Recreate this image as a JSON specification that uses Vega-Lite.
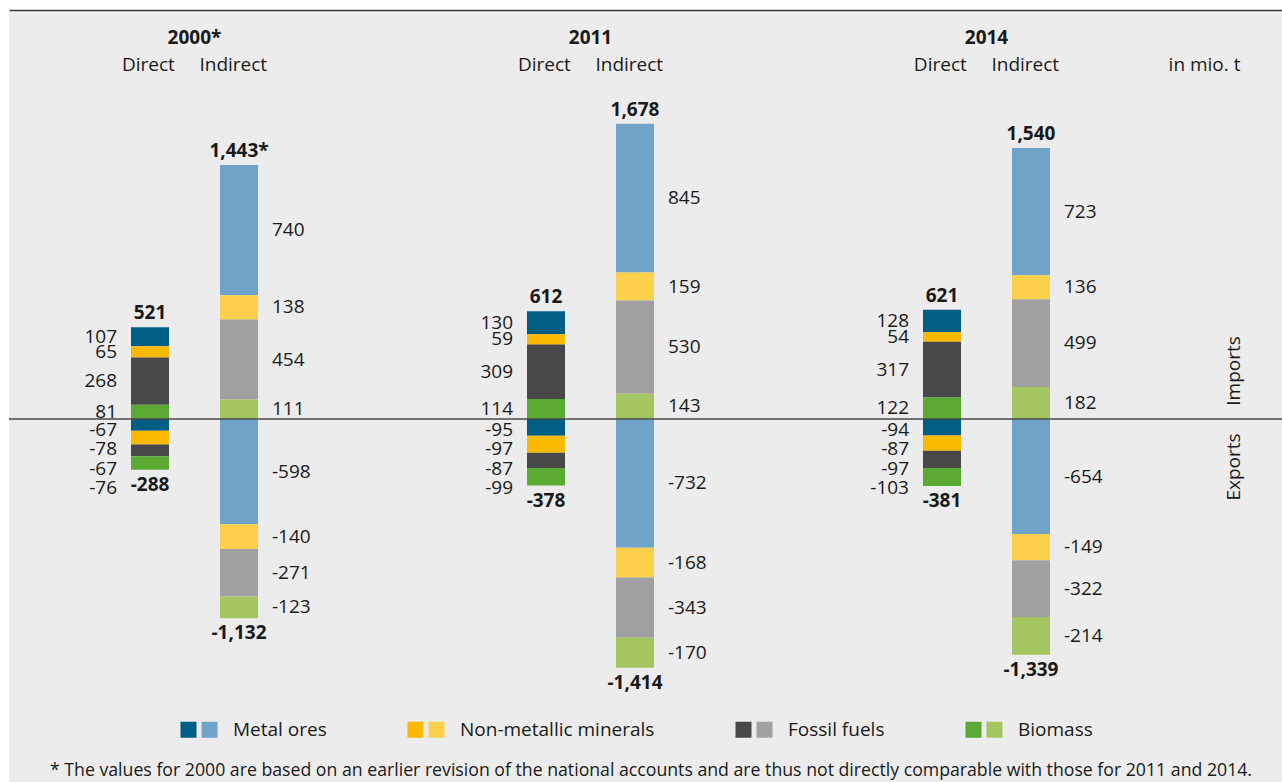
{
  "$schema": "https://vega.github.io/schema/vega-lite/v6.json",
  "autosize": "none",
  "width": 1273,
  "height": 772,
  "padding": {"left": 9, "top": 10, "right": 0, "bottom": 0},
  "background": "#ffffff",
  "config": {
    "view": {"fill": "#ebeceb", "stroke": null},
    "font": "Open Sans",
    "text": {"font": "Open Sans", "fontSize": 19, "color": "#1a1a1a"},
    "axis": {"labelFont": "Open Sans", "titleFont": "Open Sans", "labelColor": "#1a1a1a", "titleColor": "#1a1a1a"},
    "legend": {"labelFont": "Open Sans", "labelColor": "#1a1a1a"},
    "title": {"font": "Open Sans", "color": "#1a1a1a"}
  },
  "title": {
    "text": "* The values for 2000 are based on an earlier revision of the national accounts and are thus not directly comparable with those for 2011 and 2014.",
    "orient": "bottom",
    "anchor": "start",
    "frame": "group",
    "offset": -6,
    "dx": 41,
    "baseline": "alphabetic",
    "fontSize": 17.7,
    "fontWeight": "normal"
  },
  "datasets": {
    "flows": [
      {"year": "2000", "type": "Direct", "flow": "Imports", "category": "Metal ores", "value": 107},
      {"year": "2000", "type": "Direct", "flow": "Imports", "category": "Non-metallic minerals", "value": 65},
      {"year": "2000", "type": "Direct", "flow": "Imports", "category": "Fossil fuels", "value": 268},
      {"year": "2000", "type": "Direct", "flow": "Imports", "category": "Biomass", "value": 81},
      {"year": "2000", "type": "Direct", "flow": "Exports", "category": "Metal ores", "value": -67},
      {"year": "2000", "type": "Direct", "flow": "Exports", "category": "Non-metallic minerals", "value": -78},
      {"year": "2000", "type": "Direct", "flow": "Exports", "category": "Fossil fuels", "value": -67},
      {"year": "2000", "type": "Direct", "flow": "Exports", "category": "Biomass", "value": -76},
      {"year": "2000", "type": "Indirect", "flow": "Imports", "category": "Metal ores", "value": 740},
      {"year": "2000", "type": "Indirect", "flow": "Imports", "category": "Non-metallic minerals", "value": 138},
      {"year": "2000", "type": "Indirect", "flow": "Imports", "category": "Fossil fuels", "value": 454},
      {"year": "2000", "type": "Indirect", "flow": "Imports", "category": "Biomass", "value": 111},
      {"year": "2000", "type": "Indirect", "flow": "Exports", "category": "Metal ores", "value": -598},
      {"year": "2000", "type": "Indirect", "flow": "Exports", "category": "Non-metallic minerals", "value": -140},
      {"year": "2000", "type": "Indirect", "flow": "Exports", "category": "Fossil fuels", "value": -271},
      {"year": "2000", "type": "Indirect", "flow": "Exports", "category": "Biomass", "value": -123},
      {"year": "2011", "type": "Direct", "flow": "Imports", "category": "Metal ores", "value": 130},
      {"year": "2011", "type": "Direct", "flow": "Imports", "category": "Non-metallic minerals", "value": 59},
      {"year": "2011", "type": "Direct", "flow": "Imports", "category": "Fossil fuels", "value": 309},
      {"year": "2011", "type": "Direct", "flow": "Imports", "category": "Biomass", "value": 114},
      {"year": "2011", "type": "Direct", "flow": "Exports", "category": "Metal ores", "value": -95},
      {"year": "2011", "type": "Direct", "flow": "Exports", "category": "Non-metallic minerals", "value": -97},
      {"year": "2011", "type": "Direct", "flow": "Exports", "category": "Fossil fuels", "value": -87},
      {"year": "2011", "type": "Direct", "flow": "Exports", "category": "Biomass", "value": -99},
      {"year": "2011", "type": "Indirect", "flow": "Imports", "category": "Metal ores", "value": 845},
      {"year": "2011", "type": "Indirect", "flow": "Imports", "category": "Non-metallic minerals", "value": 159},
      {"year": "2011", "type": "Indirect", "flow": "Imports", "category": "Fossil fuels", "value": 530},
      {"year": "2011", "type": "Indirect", "flow": "Imports", "category": "Biomass", "value": 143},
      {"year": "2011", "type": "Indirect", "flow": "Exports", "category": "Metal ores", "value": -732},
      {"year": "2011", "type": "Indirect", "flow": "Exports", "category": "Non-metallic minerals", "value": -168},
      {"year": "2011", "type": "Indirect", "flow": "Exports", "category": "Fossil fuels", "value": -343},
      {"year": "2011", "type": "Indirect", "flow": "Exports", "category": "Biomass", "value": -170},
      {"year": "2014", "type": "Direct", "flow": "Imports", "category": "Metal ores", "value": 128},
      {"year": "2014", "type": "Direct", "flow": "Imports", "category": "Non-metallic minerals", "value": 54},
      {"year": "2014", "type": "Direct", "flow": "Imports", "category": "Fossil fuels", "value": 317},
      {"year": "2014", "type": "Direct", "flow": "Imports", "category": "Biomass", "value": 122},
      {"year": "2014", "type": "Direct", "flow": "Exports", "category": "Metal ores", "value": -94},
      {"year": "2014", "type": "Direct", "flow": "Exports", "category": "Non-metallic minerals", "value": -87},
      {"year": "2014", "type": "Direct", "flow": "Exports", "category": "Fossil fuels", "value": -97},
      {"year": "2014", "type": "Direct", "flow": "Exports", "category": "Biomass", "value": -103},
      {"year": "2014", "type": "Indirect", "flow": "Imports", "category": "Metal ores", "value": 723},
      {"year": "2014", "type": "Indirect", "flow": "Imports", "category": "Non-metallic minerals", "value": 136},
      {"year": "2014", "type": "Indirect", "flow": "Imports", "category": "Fossil fuels", "value": 499},
      {"year": "2014", "type": "Indirect", "flow": "Imports", "category": "Biomass", "value": 182},
      {"year": "2014", "type": "Indirect", "flow": "Exports", "category": "Metal ores", "value": -654},
      {"year": "2014", "type": "Indirect", "flow": "Exports", "category": "Non-metallic minerals", "value": -149},
      {"year": "2014", "type": "Indirect", "flow": "Exports", "category": "Fossil fuels", "value": -322},
      {"year": "2014", "type": "Indirect", "flow": "Exports", "category": "Biomass", "value": -214}
    ],
    "totals": [
      {"year": "2000", "type": "Direct", "flow": "Imports", "total": 521, "note": ""},
      {"year": "2000", "type": "Direct", "flow": "Exports", "total": -288, "note": ""},
      {"year": "2000", "type": "Indirect", "flow": "Imports", "total": 1443, "note": "*"},
      {"year": "2000", "type": "Indirect", "flow": "Exports", "total": -1132, "note": ""},
      {"year": "2011", "type": "Direct", "flow": "Imports", "total": 612, "note": ""},
      {"year": "2011", "type": "Direct", "flow": "Exports", "total": -378, "note": ""},
      {"year": "2011", "type": "Indirect", "flow": "Imports", "total": 1678, "note": ""},
      {"year": "2011", "type": "Indirect", "flow": "Exports", "total": -1414, "note": ""},
      {"year": "2014", "type": "Direct", "flow": "Imports", "total": 621, "note": ""},
      {"year": "2014", "type": "Direct", "flow": "Exports", "total": -381, "note": ""},
      {"year": "2014", "type": "Indirect", "flow": "Imports", "total": 1540, "note": ""},
      {"year": "2014", "type": "Indirect", "flow": "Exports", "total": -1339, "note": ""}
    ]
  },
  "layer": [
    {
      "data": {"name": "flows"},
      "transform": [
        {"calculate": "datum.flow === 'Imports' ? indexof(['Biomass','Fossil fuels','Non-metallic minerals','Metal ores'], datum.category) : indexof(['Metal ores','Non-metallic minerals','Fossil fuels','Biomass'], datum.category)", "as": "ord"},
        {"stack": "value", "groupby": ["year", "type"], "sort": [{"field": "ord", "order": "ascending"}], "as": ["v0", "v1"]},
        {"filter": "datum.type === 'Direct'"}
      ],
      "mark": {"type": "bar"},
      "encoding": {
        "x": {
          "field": "year", "type": "nominal",
          "scale": {"paddingInner": 0.5505, "paddingOuter": 0.3826, "align": 0.3185},
          "axis": {
            "orient": "top", "title": null,
            "domain": true, "domainColor": "#3a3a3a", "domainWidth": 1.5,
            "ticks": false, "tickSize": 0, "grid": false,
            "labelPadding": -33, "labelBaseline": "alphabetic", "labelAngle": 0,
            "labelFontSize": 19, "labelFontWeight": "bold", "labelOverlap": false,
            "labelExpr": "datum.value === '2000' ? '2000*' : datum.value"
          }
        },
        "xOffset": {"field": "type", "type": "nominal", "scale": {"domain": ["Direct", "Indirect"], "paddingInner": 0.573, "paddingOuter": 0.2865}},
        "y": {"field": "v0", "type": "quantitative", "scale": {"domain": [-2062.5, 2323.9], "nice": false, "zero": false}, "axis": null},
        "y2": {"field": "v1"},
        "color": {
          "field": "category", "type": "nominal",
          "scale": {"domain": ["Metal ores", "Non-metallic minerals", "Fossil fuels", "Biomass"], "range": ["#005e84", "#fbb900", "#48474a", "#5aaa34"]},
          "legend": {
            "orient": "none", "legendX": 170, "legendY": 710, "direction": "horizontal", "title": null, "padding": 0,
            "symbolType": "square", "symbolSize": 256, "symbolStrokeWidth": 0, "symbolOpacity": 1,
            "labelOffset": 14, "columnPadding": 100, "labelFontSize": 19, "labelOpacity": 0, "labelLimit": 400
          }
        }
      }
    },
    {
      "data": {"name": "flows"},
      "transform": [
        {"calculate": "datum.flow === 'Imports' ? indexof(['Biomass','Fossil fuels','Non-metallic minerals','Metal ores'], datum.category) : indexof(['Metal ores','Non-metallic minerals','Fossil fuels','Biomass'], datum.category)", "as": "ord"},
        {"stack": "value", "groupby": ["year", "type"], "sort": [{"field": "ord", "order": "ascending"}], "as": ["v0", "v1"]},
        {"filter": "datum.type === 'Indirect'"}
      ],
      "mark": {"type": "bar"},
      "encoding": {
        "x": {
          "field": "year", "type": "nominal",
          "scale": {"paddingInner": 0.5505, "paddingOuter": 0.3826, "align": 0.3185},
          "axis": {
            "orient": "top",
            "domain": false, "ticks": false, "tickSize": 0, "grid": false,
            "labelPadding": -60, "labelBaseline": "alphabetic", "labelAngle": 0,
            "labelFontSize": 19, "labelFontWeight": "normal", "labelOverlap": false,
            "labelExpr": "'Direct\u00a0\u00a0\u00a0\u00a0\u00a0Indirect'",
            "title": "in mio. t", "titleX": 1231, "titleY": 60, "titleAlign": "right", "titleAnchor": "end",
            "titleBaseline": "alphabetic", "titleFontSize": 19, "titleFontWeight": "normal", "titlePadding": 0
          }
        },
        "xOffset": {"field": "type", "type": "nominal", "scale": {"domain": ["Direct", "Indirect"], "paddingInner": 0.573, "paddingOuter": 0.2865}},
        "y": {"field": "v0", "type": "quantitative", "scale": {"domain": [-2062.5, 2323.9], "nice": false, "zero": false}, "axis": null},
        "y2": {"field": "v1"},
        "color": {
          "field": "category", "type": "nominal",
          "scale": {"domain": ["Metal ores", "Non-metallic minerals", "Fossil fuels", "Biomass"], "range": ["#6fa4c8", "#fdd04b", "#a0a0a2", "#a4c660"]},
          "legend": {
            "orient": "none", "legendX": 191, "legendY": 710, "direction": "horizontal", "title": null, "padding": 0,
            "symbolType": "square", "symbolSize": 256, "symbolStrokeWidth": 0, "symbolOpacity": 1,
            "labelOffset": 14, "columnPadding": 100, "labelFontSize": 19, "labelLimit": 400
          }
        }
      }
    },
    {
      "data": {"values": [{}]},
      "mark": {"type": "rule", "color": "#4a4a4a", "strokeWidth": 1.3},
      "encoding": {
        "y": {"datum": 0, "type": "quantitative", "scale": {"domain": [-2062.5, 2323.9], "nice": false, "zero": false}, "axis": null}
      }
    },
    {
      "data": {"values": [{}]},
      "mark": {"type": "text", "text": "Imports", "angle": 270, "align": "center", "baseline": "bottom", "dx": 48, "dy": 258},
      "encoding": {
        "x": {"datum": "2014", "type": "nominal", "scale": {"paddingInner": 0.5505, "paddingOuter": 0.3826, "align": 0.3185}, "axis": null},
        "y": {"datum": 0, "type": "quantitative", "scale": {"domain": [-2062.5, 2323.9], "nice": false, "zero": false}, "axis": null}
      }
    },
    {
      "data": {"values": [{}]},
      "mark": {"type": "text", "text": "Exports", "angle": 270, "align": "center", "baseline": "bottom", "dx": -48, "dy": 258},
      "encoding": {
        "x": {"datum": "2014", "type": "nominal", "scale": {"paddingInner": 0.5505, "paddingOuter": 0.3826, "align": 0.3185}, "axis": null},
        "y": {"datum": 0, "type": "quantitative", "scale": {"domain": [-2062.5, 2323.9], "nice": false, "zero": false}, "axis": null}
      }
    },
    {
      "data": {"name": "flows"},
      "transform": [
        {"calculate": "datum.flow === 'Imports' ? indexof(['Biomass','Fossil fuels','Non-metallic minerals','Metal ores'], datum.category) : indexof(['Metal ores','Non-metallic minerals','Fossil fuels','Biomass'], datum.category)", "as": "ord"},
        {"stack": "value", "groupby": ["year", "type"], "sort": [{"field": "ord", "order": "ascending"}], "as": ["v0", "v1"]},
        {"calculate": "(datum.v0 + datum.v1) / 2", "as": "mid"},
        {"filter": "datum.type === 'Direct' && datum.flow === 'Imports'"}
      ],
      "mark": {"type": "text", "align": "right", "baseline": "middle", "dx": -33},
      "encoding": {
        "x": {"field": "year", "type": "nominal", "scale": {"paddingInner": 0.5505, "paddingOuter": 0.3826, "align": 0.3185}, "axis": null},
        "xOffset": {"field": "type", "type": "nominal", "scale": {"domain": ["Direct", "Indirect"], "paddingInner": 0.573, "paddingOuter": 0.2865}},
        "y": {"field": "mid", "type": "quantitative", "scale": {"domain": [-2062.5, 2323.9], "nice": false, "zero": false}, "axis": null},
        "text": {"field": "value", "type": "nominal"}
      }
    },
    {
      "data": {"name": "flows"},
      "transform": [
        {"calculate": "indexof(['Metal ores','Non-metallic minerals','Fossil fuels','Biomass'], datum.category)", "as": "ord"},
        {"filter": "datum.type === 'Direct' && datum.flow === 'Exports'"}
      ],
      "mark": {"type": "text", "align": "right", "baseline": "middle", "dx": -33},
      "encoding": {
        "x": {"field": "year", "type": "nominal", "scale": {"paddingInner": 0.5505, "paddingOuter": 0.3826, "align": 0.3185}, "axis": null},
        "xOffset": {"field": "type", "type": "nominal", "scale": {"domain": ["Direct", "Indirect"], "paddingInner": 0.573, "paddingOuter": 0.2865}},
        "y": {"datum": 0, "type": "quantitative", "scale": {"domain": [-2062.5, 2323.9], "nice": false, "zero": false}, "axis": null},
        "yOffset": {"field": "ord", "type": "quantitative", "scale": {"domain": [0, 3], "range": [11, 69]}},
        "text": {"field": "value", "type": "nominal"}
      }
    },
    {
      "data": {"name": "flows"},
      "transform": [
        {"calculate": "datum.flow === 'Imports' ? indexof(['Biomass','Fossil fuels','Non-metallic minerals','Metal ores'], datum.category) : indexof(['Metal ores','Non-metallic minerals','Fossil fuels','Biomass'], datum.category)", "as": "ord"},
        {"stack": "value", "groupby": ["year", "type"], "sort": [{"field": "ord", "order": "ascending"}], "as": ["v0", "v1"]},
        {"calculate": "(datum.v0 + datum.v1) / 2", "as": "mid"},
        {"filter": "datum.type === 'Indirect'"}
      ],
      "mark": {"type": "text", "align": "left", "baseline": "middle", "dx": 33},
      "encoding": {
        "x": {"field": "year", "type": "nominal", "scale": {"paddingInner": 0.5505, "paddingOuter": 0.3826, "align": 0.3185}, "axis": null},
        "xOffset": {"field": "type", "type": "nominal", "scale": {"domain": ["Direct", "Indirect"], "paddingInner": 0.573, "paddingOuter": 0.2865}},
        "y": {"field": "mid", "type": "quantitative", "scale": {"domain": [-2062.5, 2323.9], "nice": false, "zero": false}, "axis": null},
        "text": {"field": "value", "type": "nominal"}
      }
    },
    {
      "data": {"name": "totals"},
      "transform": [
        {"filter": "datum.total > 0"},
        {"calculate": "format(datum.total, ',') + datum.note", "as": "lbl"}
      ],
      "mark": {"type": "text", "align": "center", "baseline": "alphabetic", "dy": -8, "fontWeight": "bold"},
      "encoding": {
        "x": {"field": "year", "type": "nominal", "scale": {"paddingInner": 0.5505, "paddingOuter": 0.3826, "align": 0.3185}, "axis": null},
        "xOffset": {"field": "type", "type": "nominal", "scale": {"domain": ["Direct", "Indirect"], "paddingInner": 0.573, "paddingOuter": 0.2865}},
        "y": {"field": "total", "type": "quantitative", "scale": {"domain": [-2062.5, 2323.9], "nice": false, "zero": false}, "axis": null},
        "text": {"field": "lbl", "type": "nominal"}
      }
    },
    {
      "data": {"name": "totals"},
      "transform": [
        {"filter": "datum.total < 0"},
        {"calculate": "'-' + format(abs(datum.total), ',') + datum.note", "as": "lbl"}
      ],
      "mark": {"type": "text", "align": "center", "baseline": "top", "dy": 6, "fontWeight": "bold"},
      "encoding": {
        "x": {"field": "year", "type": "nominal", "scale": {"paddingInner": 0.5505, "paddingOuter": 0.3826, "align": 0.3185}, "axis": null},
        "xOffset": {"field": "type", "type": "nominal", "scale": {"domain": ["Direct", "Indirect"], "paddingInner": 0.573, "paddingOuter": 0.2865}},
        "y": {"field": "total", "type": "quantitative", "scale": {"domain": [-2062.5, 2323.9], "nice": false, "zero": false}, "axis": null},
        "text": {"field": "lbl", "type": "nominal"}
      }
    }
  ],
  "resolve": {"scale": {"color": "independent"}, "axis": {"x": "independent"}}
}
